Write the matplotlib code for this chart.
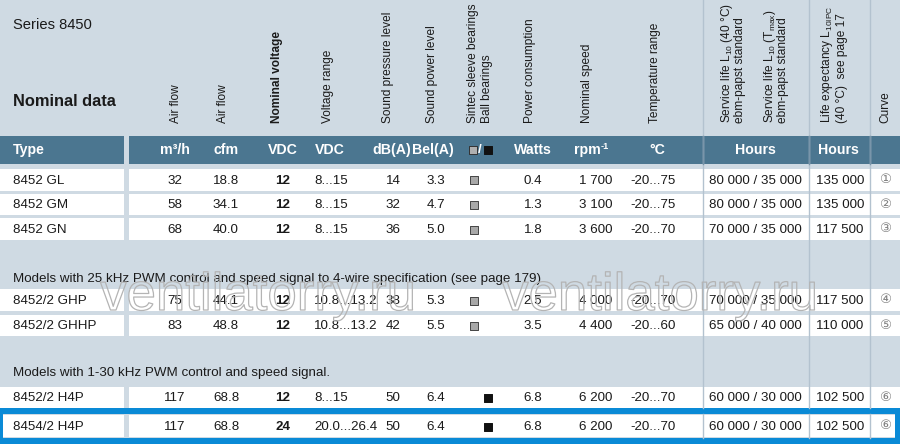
import matplotlib
matplotlib.use("Agg")
import matplotlib.pyplot as plt
from matplotlib import font_manager
from matplotlib.font_manager import FontProperties
from matplotlib.patches import Rectangle
import matplotlib.patheffects as pe

# dati tabella
types = ["8452 GL", "8452 GM", "8452 GN", "8452/2 GHP", "8452/2 GHHP", "8452/2 H4P", "8454/2 H4P"]
airflow_m3h = [32, 58, 68, 75, 83, 117, 117]
airflow_cfm = [18.8, 34.1, 40.0, 44.1, 48.8, 68.8, 68.8]
nominal_vdc = [12, 12, 12, 12, 12, 12, 24]
voltage_range = ["8...15", "8...15", "8...15", "10.8...13.2", "10.8...13.2", "8...15", "20.0...26.4"]
sound_pressure = [14, 32, 36, 38, 42, 50, 50]
sound_power = [3.3, 4.7, 5.0, 5.3, 5.5, 6.4, 6.4]
bearing = ["sleeve", "sleeve", "sleeve", "sleeve", "sleeve", "ball", "ball"]
power_w = [0.4, 1.3, 1.8, 2.5, 3.5, 6.8, 6.8]
speed_rpm = [1700, 3100, 3600, 4000, 4400, 6200, 6200]
temp_range = ["-20...75", "-20...75", "-20...70", "-20...70", "-20...60", "-20...70", "-20...70"]
service_l10_40 = [80000, 80000, 70000, 70000, 65000, 60000, 60000]
service_l10_tmax = [35000, 35000, 35000, 35000, 40000, 30000, 30000]
life_l10ipc = [135000, 135000, 117500, 117500, 110000, 102500, 102500]
curve = ["①", "②", "③", "④", "⑤", "⑥", "⑥"]

section_notes = [
    "Models with 25 kHz PWM control and speed signal to 4-wire specification (see page 179).",
    "Models with 1-30 kHz PWM control and speed signal.",
]
units = ["m³/h", "cfm", "VDC", "VDC", "dB(A)", "Bel(A)", None, "Watts", None, "°C", "Hours", "Hours"]

# layout (pixel)
row_top = [169, 194, 218, 289, 315, 387, 415]
row_bot = [191, 215, 240, 311, 336, 408, 437]
note_y = [279, 373]

BG = "#cfdae3"
BAND = "#4b7690"
BLUE = "#0a8ad6"
SEP = "#b3c2cf"


def pick_family():
    for fam in ["Liberation Sans Narrow", "Liberation Sans", "DejaVu Sans"]:
        try:
            font_manager.findfont(FontProperties(family=fam), fallback_to_default=False)
            return fam
        except Exception:
            pass
    return "DejaVu Sans"


FAM = pick_family()
NARROW = FAM == "Liberation Sans Narrow"
plt.rcParams["font.family"] = [FAM, "DejaVu Sans"]
plt.rcParams["mathtext.fontset"] = "custom"
plt.rcParams["mathtext.rm"] = FAM
plt.rcParams["mathtext.it"] = FAM
plt.rcParams["mathtext.bf"] = FAM + ":bold"

fs = 11 if NARROW else 9.6
fs_rot = 10.3 if NARROW else 8.6


def fmt_th(v):
    return f"{v:,}".replace(",", " ")


fig = plt.figure(figsize=(9, 4.44), dpi=100, facecolor=BG)
ax = fig.add_axes([0, 0, 1, 1])
ax.set_xlim(0, 900)
ax.set_ylim(444, 0)
ax.axis("off")

# testata
ax.text(13, 25, "Series 8450", fontsize=fs + 1, va="center", ha="left", color="#1a1a1a")
ax.text(13, 101, "Nominal data", fontsize=fs + 2.2, fontweight="bold", va="center", ha="left", color="#1a1a1a")

rot_labels = [
    (176, "Air flow", "normal"),
    (223, "Air flow", "normal"),
    (277, "Nominal voltage", "bold"),
    (328, "Voltage range", "normal"),
    (388, "Sound pressure level", "normal"),
    (432, "Sound power level", "normal"),
    (473, "Sintec sleeve bearings", "normal"),
    (487, "Ball bearings", "normal"),
    (530, "Power consumption", "normal"),
    (587, "Nominal speed", "normal"),
    (655, "Temperature range", "normal"),
    (727, r"Service life L$_{10}$ (40 °C)", "normal"),
    (740, "ebm-papst standard", "normal"),
    (770, r"Service life L$_{10}$ (T$_{max}$)", "normal"),
    (783, "ebm-papst standard", "normal"),
    (827, r"Life expectancy L$_{10IPC}$", "normal"),
    (842, "(40 °C)  see page 17", "normal"),
    (885, "Curve", "normal"),
]
for x, lab, w in rot_labels:
    ax.text(x, 123, lab, rotation=90, ha="center", va="bottom", fontsize=fs_rot,
            fontweight=w, color="#1a1a1a")

# banda unita
ax.add_patch(Rectangle((0, 136), 124, 28, color=BAND, lw=0))
ax.add_patch(Rectangle((129, 136), 771, 28, color=BAND, lw=0))
ax.text(13, 150, "Type", color="white", fontweight="bold", fontsize=fs + 0.6, va="center")
unit_x = [175, 226, 283, 330, 392, 433, None, 533, None, 657, 755, 838]
for x, u in zip(unit_x, units):
    if u:
        ax.text(x, 150, u, color="white", fontweight="bold", fontsize=fs + 0.6, ha="center", va="center")
ax.text(601, 150, "rpm", color="white", fontweight="bold", fontsize=fs + 0.6, ha="right", va="center")
ax.text(601, 146, "-1", color="white", fontweight="bold", fontsize=fs - 3, ha="left", va="center")
ax.scatter([473], [150], marker="s", s=30, c="#b0b0b0", edgecolors="#333333", linewidths=0.7, zorder=3)
ax.text(480, 150, "/", color="white", fontweight="bold", fontsize=fs, ha="center", va="center")
ax.scatter([488], [150], marker="s", s=30, c="#111111", edgecolors="#111111", linewidths=0.7, zorder=3)

# cornice blu ultima riga
ax.add_patch(Rectangle((0, 408), 900, 36, color=BLUE, lw=0))
ax.add_patch(Rectangle((3, 414), 892, 24, color=BG, lw=0))

# righe
for i in range(len(types)):
    t, b = row_top[i], row_bot[i]
    right = 895 if i == len(types) - 1 else 900
    left = 3 if i == len(types) - 1 else 0
    ax.add_patch(Rectangle((left, t), 124 - left, b - t, color="white", lw=0))
    ax.add_patch(Rectangle((129, t), right - 129, b - t, color="white", lw=0))

for x in [703, 809, 870]:
    ax.plot([x, x], [0, 408], color=SEP, lw=1.0, zorder=2)
    ax.plot([x, x], [414, 438], color=SEP, lw=1.0, zorder=2)
    ax.plot([x, x], [136, 164], color="#7995aa", lw=1.0, zorder=2)

for y, note in zip(note_y, section_notes):
    ax.text(13, y, note, fontsize=fs, va="center", ha="left", color="#1a1a1a")

# valori
for i in range(len(types)):
    y = (row_top[i] + row_bot[i]) / 2 + 0.5
    kw = dict(fontsize=fs, va="center", color="#1a1a1a", zorder=4)
    ax.text(13, y, types[i], ha="left", **kw)
    ax.text(175, y, str(airflow_m3h[i]), ha="center", **kw)
    ax.text(226, y, f"{airflow_cfm[i]:.1f}", ha="center", **kw)
    ax.text(283, y, str(nominal_vdc[i]), ha="center", fontweight="bold", **kw)
    ax.text(314, y, voltage_range[i], ha="left", **kw)
    ax.text(393, y, str(sound_pressure[i]), ha="center", **kw)
    ax.text(436, y, f"{sound_power[i]:.1f}", ha="center", **kw)
    if bearing[i] == "sleeve":
        ax.scatter([474], [y], marker="s", s=30, c="#a8a8a8", edgecolors="#444444", linewidths=0.7, zorder=4)
    else:
        ax.scatter([488], [y], marker="s", s=32, c="#111111", edgecolors="#111111", linewidths=0.7, zorder=4)
    ax.text(533, y, f"{power_w[i]:.1f}", ha="center", **kw)
    ax.text(596, y, fmt_th(speed_rpm[i]), ha="center", **kw)
    ax.text(653, y, temp_range[i], ha="center", **kw)
    ax.text(755, y, f"{fmt_th(service_l10_40[i])} / {fmt_th(service_l10_tmax[i])}", ha="center", **kw)
    ax.text(840, y, fmt_th(life_l10ipc[i]), ha="center", **kw)
    ax.text(886, y - 1, curve[i], ha="center", fontsize=fs, va="center", color="#808080",
            family=["DejaVu Sans", "Noto Sans CJK JP"], zorder=4)

# filigrana (solo contorno)
for x in [258, 660]:
    ax.text(x, 296, "ventilatorry.ru", fontsize=38, ha="center", va="center",
            color=(1, 1, 1, 0), family=["Liberation Sans", "DejaVu Sans"], zorder=5,
            path_effects=[pe.Stroke(linewidth=0.9, foreground="#b4b4b4")])

fig.savefig("out.png", dpi=100, facecolor=BG)
